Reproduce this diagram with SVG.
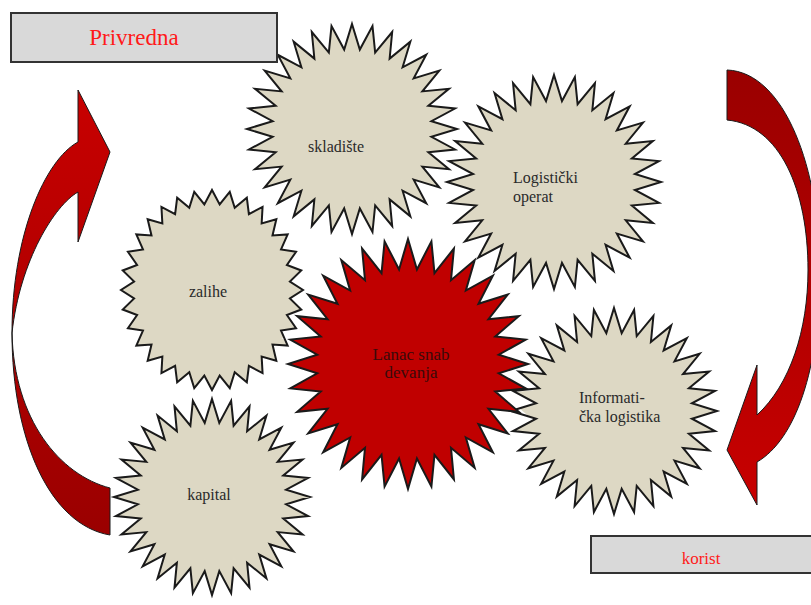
<svg xmlns="http://www.w3.org/2000/svg" xmlns:xlink="http://www.w3.org/1999/xlink" width="811" height="605" viewBox="0 0 811 605">
<style>
.gf{fill:#ddd8c4;stroke:none}
.go{fill:none;stroke:#1a1a1a;stroke-width:2}
.red{fill:#c00000;stroke:#1a1a1a;stroke-width:2}
.halo{fill:#ffffff;stroke:none}
.lbl{font-family:"Liberation Serif","Times New Roman",serif;font-size:16px;fill:#2a2a2a}
.box{fill:#d9d9d9;stroke:#333333;stroke-width:2}
.boxt{font-family:"Liberation Serif","Times New Roman",serif;fill:#ff1a1a;text-anchor:middle}
.arr{stroke:#1a1a1a;stroke-width:1}
</style>
<defs>
<polygon id="deep" vector-effect="non-scaling-stroke" points="0,-100 7.45,-75.63 19.51,-98.08 22.06,-72.73 38.27,-92.39 35.83,-67.03 55.56,-83.15 48.21,-58.75 70.71,-70.71 58.75,-48.21 83.15,-55.56 67.03,-35.83 92.39,-38.27 72.73,-22.06 98.08,-19.51 75.63,-7.45 100,0 75.63,7.45 98.08,19.51 72.73,22.06 92.39,38.27 67.03,35.83 83.15,55.56 58.75,48.21 70.71,70.71 48.21,58.75 55.56,83.15 35.83,67.03 38.27,92.39 22.06,72.73 19.51,98.08 7.45,75.63 0,100 -7.45,75.63 -19.51,98.08 -22.06,72.73 -38.27,92.39 -35.83,67.03 -55.56,83.15 -48.21,58.75 -70.71,70.71 -58.75,48.21 -83.15,55.56 -67.03,35.83 -92.39,38.27 -72.73,22.06 -98.08,19.51 -75.63,7.45 -100,0 -75.63,-7.45 -98.08,-19.51 -72.73,-22.06 -92.39,-38.27 -67.03,-35.83 -83.15,-55.56 -58.75,-48.21 -70.71,-70.71 -48.21,-58.75 -55.56,-83.15 -35.83,-67.03 -38.27,-92.39 -22.06,-72.73 -19.51,-98.08 -7.45,-75.63"/>
<polygon id="shallow" vector-effect="non-scaling-stroke" points="0,-100 8.43,-85.59 19.51,-98.08 24.96,-82.30 38.27,-92.39 40.54,-75.85 55.56,-83.15 54.56,-66.48 70.71,-70.71 66.48,-54.56 83.15,-55.56 75.85,-40.54 92.39,-38.27 82.30,-24.96 98.08,-19.51 85.59,-8.43 100,0 85.59,8.43 98.08,19.51 82.30,24.96 92.39,38.27 75.85,40.54 83.15,55.56 66.48,54.56 70.71,70.71 54.56,66.48 55.56,83.15 40.54,75.85 38.27,92.39 24.96,82.30 19.51,98.08 8.43,85.59 0,100 -8.43,85.59 -19.51,98.08 -24.96,82.30 -38.27,92.39 -40.54,75.85 -55.56,83.15 -54.56,66.48 -70.71,70.71 -66.48,54.56 -83.15,55.56 -75.85,40.54 -92.39,38.27 -82.30,24.96 -98.08,19.51 -85.59,8.43 -100,0 -85.59,-8.43 -98.08,-19.51 -82.30,-24.96 -92.39,-38.27 -75.85,-40.54 -83.15,-55.56 -66.48,-54.56 -70.71,-70.71 -54.56,-66.48 -55.56,-83.15 -40.54,-75.85 -38.27,-92.39 -24.96,-82.30 -19.51,-98.08 -8.43,-85.59"/>
<linearGradient id="gL" x1="0" y1="0" x2="0" y2="1"><stop offset="0" stop-color="#c80000"/><stop offset="1" stop-color="#9a0000"/></linearGradient>
<linearGradient id="gR" x1="0" y1="0" x2="0" y2="1"><stop offset="0" stop-color="#9a0000"/><stop offset="1" stop-color="#c80000"/></linearGradient>
</defs>
<rect width="811" height="605" fill="#ffffff"/>

<g id="node-zalihe">
<use href="#shallow" class="gf" transform="translate(212,290) scale(0.91,1.0)"/>
<text class="lbl" x="208" y="297" text-anchor="middle">zalihe</text>
</g>
<g id="node-skladiste">
<use href="#deep" class="gf" transform="translate(352,129) scale(1.05)"/>
<text class="lbl" x="336" y="152" text-anchor="middle">skladište</text>
</g>
<g id="node-logisticki">
<use href="#deep" class="gf" transform="translate(554,182) scale(1.07)"/>
<text class="lbl" x="513" y="183">Logistički</text>
<text class="lbl" x="513" y="202">operat</text>
</g>
<g id="node-kapital">
<use href="#deep" class="gf" transform="translate(212,497) scale(0.98)"/>
<text class="lbl" x="209" y="500" text-anchor="middle">kapital</text>
</g>
<g id="node-informaticka">
<use href="#deep" class="gf" transform="translate(614,411) scale(1.03)"/>
<text class="lbl" x="579" y="403">Informati-</text>
<text class="lbl" x="579" y="422">čka logistika</text>
</g>

<g id="halo">
<use href="#deep" class="halo" transform="translate(408,364) scale(1.29,1.33)"/>
</g>

<g id="gear-outlines">
<use href="#shallow" class="go" transform="translate(212,290) scale(0.91,1.0)"/>
<use href="#deep" class="go" transform="translate(352,129) scale(1.05)"/>
<use href="#deep" class="go" transform="translate(554,182) scale(1.07)"/>
<use href="#deep" class="go" transform="translate(212,497) scale(0.98)"/>
<use href="#deep" class="go" transform="translate(614,411) scale(1.03)"/>
</g>

<g id="node-lanac">
<use href="#deep" class="red" transform="translate(408,364) scale(1.2,1.25)"/>
<text class="lbl" x="411" y="360" text-anchor="middle" style="font-size:17px;fill:#3a0a0a">Lanac snab</text>
<text class="lbl" x="411" y="378" text-anchor="middle" style="font-size:17px;fill:#3a0a0a">devanja</text>
</g>

<g id="connectors">
<path class="arr" fill="url(#gL)" d="M110,535 C50,525 12,440 12,333 C12,235 45,160 78,142 L78,90 L110,152 L78,242 L78,192 C55,205 20,260 12,333 C14,420 60,475 110,488 Z"/>
<path class="arr" fill="url(#gR)" d="M727,70 C785,72 820,170 820,270 C820,370 795,440 757,462 L757,505 L727,450 L757,365 L757,415 C790,385 808,330 808,270 C808,190 780,125 727,120 Z"/>
</g>

<g id="node-privredna">
<rect class="box" x="11" y="13" width="266" height="49"/>
<text class="boxt" x="134" y="45" style="font-size:23px">Privredna</text>
</g>
<g id="node-korist">
<rect class="box" x="591" y="536" width="230" height="37"/>
<text class="boxt" x="701" y="564" style="font-size:17px">korist</text>
</g>
</svg>
